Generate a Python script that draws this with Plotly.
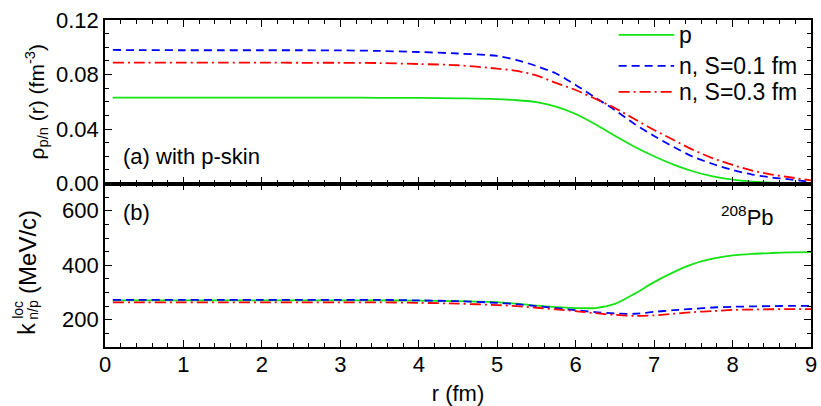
import plotly.graph_objects as go
from plotly.subplots import make_subplots

# radial grid (fm)
r = [0.1, 0.5, 1.0, 1.5, 2.0, 2.5, 3.0, 3.5, 4.0, 4.5, 5.0, 5.25, 5.5, 5.75,
     6.0, 6.25, 6.5, 6.75, 7.0, 7.25, 7.5, 7.75, 8.0, 8.25, 8.5, 8.75, 9.0]

# (a) densities (fm^-3)
rho_p = [0.0630, 0.0630, 0.0630, 0.0630, 0.0630, 0.0630, 0.0630, 0.0629, 0.0628, 0.0625,
         0.0620, 0.0611, 0.0598, 0.0565, 0.0510, 0.0435, 0.0350, 0.0270, 0.0200, 0.0138,
         0.0088, 0.0052, 0.0028, 0.0014, 0.0007, 0.0004, 0.0002]
rho_n_s01 = [0.0980, 0.0979, 0.0978, 0.0978, 0.0978, 0.0978, 0.0977, 0.0973, 0.0965, 0.0954,
             0.0936, 0.0906, 0.0862, 0.0807, 0.0723, 0.0630, 0.0539, 0.0437, 0.0349, 0.0268,
             0.0195, 0.0143, 0.0099, 0.0066, 0.0044, 0.0029, 0.0011]
rho_n_s03 = [0.0887, 0.0887, 0.0887, 0.0887, 0.0887, 0.0886, 0.0886, 0.0884, 0.0877, 0.0868,
             0.0843, 0.0826, 0.0793, 0.0738, 0.0686, 0.0622, 0.0554, 0.0473, 0.0393, 0.0319,
             0.0246, 0.0185, 0.0136, 0.0095, 0.0066, 0.0044, 0.0023]

# (b) local Fermi momenta (MeV/c)
k_p = [271, 271, 271, 271, 271, 271, 271, 271, 270, 268, 265, 259, 252, 246,
       243, 243, 258, 295, 338, 375, 405, 424, 436, 442, 445, 447, 448]
k_n_s01 = [273, 273, 273, 273, 273, 273, 273, 273, 271, 268, 262, 257, 250, 243,
           235, 228, 223, 222, 229, 235, 240, 245, 247.5, 249, 250, 251, 251]
k_n_s03 = [264, 264, 264, 264, 264, 264, 264, 264, 262, 259, 254, 250, 244, 238,
           232, 224, 218, 214, 216, 222, 228, 232, 236, 237.5, 238.5, 239, 239]

names = ["p", "n, S=0.1 fm", "n, S=0.3 fm"]
colors = ["#12e312", "#0000ff", "#ff0000"]
dashes = ["solid", "8px,5px", "11px,4px,2px,4px"]

FONT = "Liberation Sans, Arial, sans-serif"
BLACK = "black"

# plot-area geometry in pixels, for placing paper-referenced decorations
L, R, T, B = 105, 4, 20, 58
W, H = 821, 406
PW, PH = W - L - R, H - T - B


def px(xp):
    return (xp - L) / PW


def py(yp):
    return (H - B - yp) / PH


fig = make_subplots(rows=2, cols=1, shared_xaxes=True, vertical_spacing=0)

for ys, col, dsh in zip([rho_p, rho_n_s01, rho_n_s03], colors, dashes):
    fig.add_trace(go.Scatter(x=r, y=ys, mode="lines", line_shape="spline",
                             line=dict(color=col, width=1.8, dash=dsh, smoothing=0.8),
                             showlegend=False), row=1, col=1)
for ys, col, dsh in zip([k_p, k_n_s01, k_n_s03], colors, dashes):
    fig.add_trace(go.Scatter(x=r, y=ys, mode="lines", line_shape="spline",
                             line=dict(color=col, width=1.8, dash=dsh, smoothing=0.8),
                             showlegend=False), row=2, col=1)

axis_common = dict(showline=True, linecolor=BLACK, linewidth=1.6, mirror="allticks",
                   ticks="inside", ticklen=7, tickwidth=1.4, tickcolor=BLACK,
                   showgrid=False, zeroline=False,
                   tickfont=dict(family=FONT, size=22, color=BLACK))

fig.update_xaxes(range=[0, 9], dtick=1, tick0=0, ticklabeloverflow="allow",
                 minor=dict(dtick=0.2, ticks="inside", ticklen=4, tickwidth=1.2,
                            tickcolor=BLACK, showgrid=False),
                 **axis_common)
fig.update_xaxes(showticklabels=False, row=1, col=1)
fig.update_xaxes(title=dict(text="r (fm)", font=dict(family=FONT, size=22, color=BLACK),
                            standoff=9), ticklabelstandoff=-3, row=2, col=1)

fig.update_yaxes(range=[0, 0.12], tickvals=[0, 0.04, 0.08, 0.12], tickformat=".2f",
                 minor=dict(dtick=0.01, tick0=0, ticks="inside", ticklen=4, tickwidth=1.2,
                            tickcolor=BLACK, showgrid=False),
                 title=dict(text="ρ<sub>p/n</sub> (r) (fm<sup>-3</sup>)",
                            font=dict(family=FONT, size=21, color=BLACK), standoff=6),
                 row=1, col=1, **axis_common)
fig.update_yaxes(range=[100, 700], tickvals=[200, 400, 600],
                 minor=dict(dtick=50, tick0=0, ticks="inside", ticklen=4, tickwidth=1.2,
                            tickcolor=BLACK, showgrid=False),
                 row=2, col=1, **axis_common)


def txt(text, x, y, size, xref="paper", yref="paper", xanchor="center",
        yanchor="middle", angle=0):
    return dict(text=text, x=x, y=y, xref=xref, yref=yref, xanchor=xanchor,
                yanchor=yanchor, textangle=angle, showarrow=False,
                font=dict(family=FONT, size=size, color=BLACK))


ann = [
    txt("(a) with p-skin", 0.2, 0.0195, 22, "x", "y", xanchor="left"),
    txt("(b)", 0.2, 595, 22, "x2", "y2", xanchor="left"),
    txt("<sup>208</sup>Pb", 8.55, 580, 22, "x2", "y2", xanchor="right"),
    # bottom y-axis title: k with stacked "loc" / "n/p"
    txt("k", px(26), py(330), 23, angle=-90),
    txt("loc", px(17), py(311), 14, angle=-90),
    txt("n/p", px(33), py(311), 14, angle=-90),
    txt("(MeV/c)", px(27), py(253), 24, angle=-90),
]

# legend drawn as line samples with labels
leg_y = [35, 66, 92]
shapes = []
for yl, nm, col, dsh in zip(leg_y, names, colors, dashes):
    shapes.append(dict(type="line", xref="paper", yref="paper",
                       x0=px(623), x1=px(679), y0=py(yl), y1=py(yl),
                       line=dict(color=col, width=1.8, dash=dsh)))
    ann.append(txt(nm, px(682), py(yl), 23, xanchor="left"))

fig.update_layout(width=W, height=H, margin=dict(l=L, r=R, t=T, b=B),
                  paper_bgcolor="white", plot_bgcolor="white",
                  annotations=ann, shapes=shapes, showlegend=False)

fig.write_html("out.html")
